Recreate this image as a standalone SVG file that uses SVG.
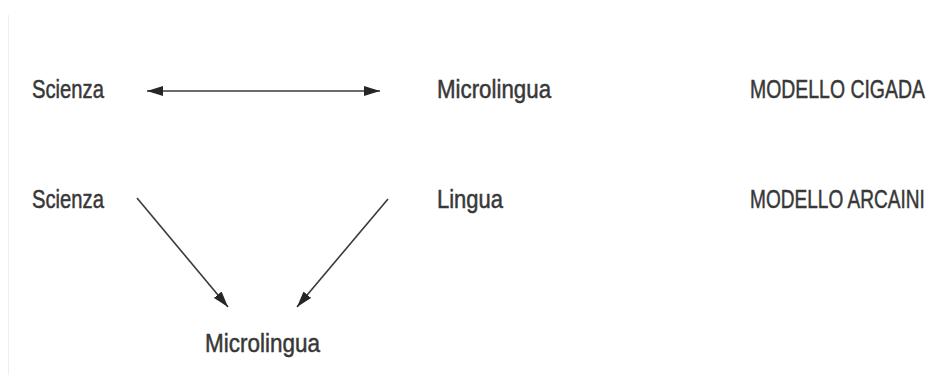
<svg xmlns="http://www.w3.org/2000/svg" width="937" height="383" viewBox="0 0 937 383">
<style>
text{font-family:"Liberation Sans",Arial,sans-serif;font-size:26px;fill:#383838;stroke:#383838;stroke-width:0.5}
.c{stroke:#3a3a3a;stroke-width:1.6;fill:none}
</style>
<defs>
<marker id="ah" viewBox="0 0 16 10" refX="16" refY="5" markerWidth="16" markerHeight="10" markerUnits="userSpaceOnUse" orient="auto-start-reverse">
<path d="M0,0 L16,5 L0,10 Z" fill="#262626"/>
</marker>
</defs>
<rect width="937" height="383" fill="#fff"/>
<line x1="8.5" y1="15" x2="8.5" y2="375" stroke="#eeeeee" stroke-width="1"/>
<g id="n-scienza1"><text transform="translate(32,98) scale(0.778,1)">Scienza</text></g>
<g id="n-microlingua1"><text transform="translate(437,98) scale(0.858,1)">Microlingua</text></g>
<g id="n-cigada"><text transform="translate(750,98) scale(0.748,1)">MODELLO CIGADA</text></g>
<g id="n-scienza2"><text transform="translate(32,208) scale(0.778,1)">Scienza</text></g>
<g id="n-lingua"><text transform="translate(437,208) scale(0.846,1)">Lingua</text></g>
<g id="n-arcaini"><text transform="translate(750,208) scale(0.734,1)">MODELLO ARCAINI</text></g>
<g id="n-microlingua2"><text transform="translate(205,352) scale(0.865,1)">Microlingua</text></g>
<g id="connectors">
<line class="c" x1="147" y1="91" x2="380" y2="91" marker-start="url(#ah)" marker-end="url(#ah)"/>
<line class="c" x1="137" y1="198" x2="228" y2="307" marker-end="url(#ah)"/>
<line class="c" x1="388" y1="199" x2="297" y2="307" marker-end="url(#ah)"/>
</g>
</svg>
